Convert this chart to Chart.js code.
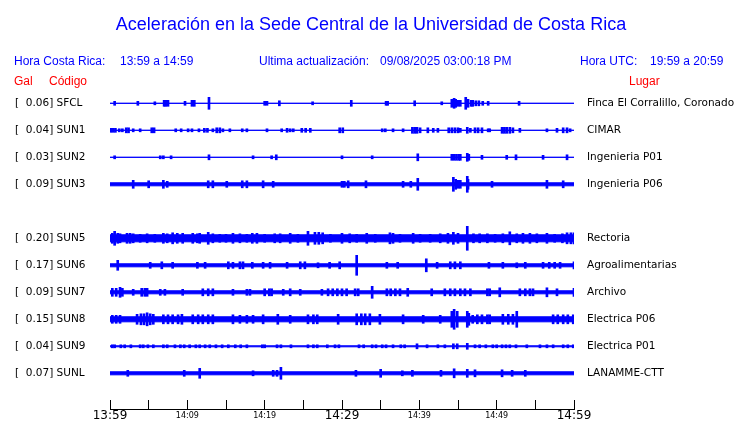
<!DOCTYPE html>
<html>
<head>
<meta charset="utf-8">
<title>Aceleración Sede Central UCR</title>
<script src="https://cdn.jsdelivr.net/npm/chart.js@4.4.0/dist/chart.umd.min.js"></script>
<style>
  body { margin: 0; background: #fff; }
  #wrap { width: 740px; height: 423px; }
</style>
</head>
<body>
<div id="wrap"><canvas id="sismoChart" width="740" height="423"></canvas></div>
<script>
// Textos de cabecera
var chartTitle = 'Aceleración en la Sede Central de la Universidad de Costa Rica';
var horaLocal = '13:59 a 14:59';
var horaUtc = '19:59 a 20:59';
var actualizacion = '09/08/2025 03:00:18 PM';

// Estaciones (SUN4 sin datos en esta ventana)
var codes = ['SFCL', 'SUN1', 'SUN2', 'SUN3', 'SUN4', 'SUN5', 'SUN6', 'SUN7', 'SUN8', 'SUN9', 'SUNL'];
var peakGal = [0.06, 0.04, 0.03, 0.09, null, 0.20, 0.17, 0.09, 0.15, 0.04, 0.07];
var places = ['Finca El Corralillo, Coronado', 'CIMAR', 'Ingenieria P01', 'Ingenieria P06', '',
  'Rectoria', 'Agroalimentarias', 'Archivo', 'Electrica P06', 'Electrica P01', 'LANAMME-CTT'];

// Eje de tiempo: minutos desde 13:59
var tickLabels = ['13:59', '', '14:09', '', '14:19', '', '14:29', '', '14:39', '', '14:49', '', '14:59'];
var windowMinutes = 60;

// Semi-amplitud del ruido de fondo de cada traza (unidades de fila)
var baseAmp = [0, 0, 0, 0.056, null, 0.13, 0.056, 0.056, 0.093, 0.019, 0.056];

var spikesSFCL = [[0.6, .074], [3.6, .074], [5.8, .056], [7.0, .111], [7.2, .111], [7.5, .111], [9.7, .074],
  [10.6, .111], [10.9, .111], [12.8, .222], [20.0, .074], [20.3, .074], [21.9, .093], [26.2, .056], [31.2, .111],
  [35.7, .074], [35.9, .074], [39.4, .093], [42.9, .056], [44.2, .148], [44.5, .185], [44.7, .148], [45.0, .111],
  [45.3, .111], [46.0, .222], [46.3, .148], [46.7, .111], [46.9, .111], [47.3, .093], [47.7, .093], [48.2, .074],
  [48.9, .074], [52.9, .074]];
var spikesSUN1 = [[0.1, .074], [0.4, .074], [0.7, .074], [1.2, .056], [1.6, .056], [2.1, .093], [2.4, .093],
  [3.0, .056], [3.9, .056], [5.4, .093], [5.7, .093], [8.5, .056], [9.2, .056], [10.1, .056], [10.6, .056],
  [11.5, .056], [12.2, .074], [12.6, .074], [13.3, .056], [13.8, .093], [14.2, .093], [14.6, .056], [15.5, .056],
  [17.1, .056], [17.7, .056], [20.3, .056], [22.2, .056], [22.9, .074], [23.3, .056], [23.7, .056], [24.8, .074],
  [25.3, .074], [25.9, .074], [29.7, .093], [30.1, .093], [35.2, .056], [35.6, .056], [36.6, .056], [37.9, .056],
  [39.1, .111], [39.4, .111], [39.7, .111], [40.1, .093], [41.1, .093], [41.8, .074], [42.4, .074], [43.8, .093],
  [44.2, .093], [44.6, .093], [45.0, .093], [45.3, .074], [46.2, .111], [46.6, .074], [47.2, .093], [47.6, .093],
  [48.1, .093], [48.9, .056], [49.1, .056], [50.7, .111], [51.0, .111], [51.3, .111], [51.7, .111], [52.1, .093],
  [53.0, .074], [56.5, .056], [57.8, .074], [58.6, .093], [59.1, .093], [59.5, .056]];
var spikesSUN2 = [[0.6, .056], [6.5, .056], [6.9, .056], [7.9, .056], [12.8, .093], [18.5, .056], [20.9, .056],
  [21.5, .093], [30.0, .056], [33.9, .056], [39.8, .13], [44.2, .111], [44.5, .111], [44.8, .111], [45.1, .111],
  [45.3, .111], [46.2, .148], [46.4, .111], [48.1, .074], [51.3, .074], [52.5, .093], [56.0, .074], [59.1, .093]];
var spikesSUN3 = [[3.0, .148], [5.0, .13], [6.9, .148], [7.4, .111], [12.7, .13], [13.3, .13], [15.1, .111],
  [17.1, .13], [17.7, .13], [19.8, .13], [21.1, .111], [30.0, .111], [30.3, .111], [30.8, .13], [33.1, .13],
  [37.9, .111], [38.9, .111], [39.8, .222], [44.4, .259], [44.7, .185], [45.0, .148], [45.3, .148], [46.2, .296],
  [46.3, .185], [49.4, .111], [56.5, .148], [58.6, .13]];
var spikesSUN5 = [[0.3, .185], [0.6, .259], [1.0, .185], [1.3, .167], [2.2, .185], [2.6, .185], [3.0, .167],
  [3.9, .148], [4.8, .167], [5.8, .148], [6.9, .185], [7.4, .167], [8.1, .204], [8.7, .185], [9.4, .185],
  [10.7, .185], [11.3, .167], [11.6, .185], [12.7, .222], [13.3, .167], [14.2, .148], [15.0, .148], [15.9, .185],
  [16.8, .167], [17.7, .148], [18.4, .185], [19.0, .185], [20.0, .148], [21.3, .167], [22.0, .167], [23.3, .185],
  [24.3, .148], [25.6, .259], [26.5, .222], [27.0, .222], [27.5, .204], [28.5, .148], [30.0, .185], [31.0, .167],
  [31.9, .148], [33.2, .185], [34.3, .148], [36.2, .204], [36.6, .185], [37.5, .148], [39.2, .185], [40.1, .148],
  [41.4, .148], [42.7, .167], [43.7, .185], [44.4, .222], [45.0, .185], [46.2, .444], [47.0, .167], [47.8, .167],
  [48.8, .167], [49.8, .148], [50.8, .167], [51.7, .241], [52.6, .167], [53.4, .185], [54.3, .185], [55.2, .167],
  [56.5, .185], [57.5, .148], [58.5, .167], [59.1, .204], [59.6, .204], [60.0, .204]];
var spikesSUN6 = [[1.0, .185], [5.2, .111], [6.7, .13], [8.1, .111], [11.3, .111], [12.3, .111], [15.3, .13],
  [15.9, .111], [16.8, .13], [17.2, .13], [18.4, .111], [19.8, .111], [20.7, .111], [22.9, .111], [24.6, .13],
  [25.2, .13], [26.9, .093], [28.4, .111], [29.7, .13], [31.9, .37], [35.8, .111], [37.2, .111], [40.9, .241],
  [42.3, .111], [44.0, .13], [44.6, .13], [45.3, .13], [49.0, .111], [50.8, .111], [52.6, .093], [53.7, .111],
  [56.0, .111], [56.8, .111], [57.5, .111], [58.2, .111], [60.0, .13]];
var spikesSUN7 = [[0.3, .148], [0.8, .148], [1.3, .185], [1.6, .148], [3.0, .111], [4.1, .148], [4.5, .148],
  [4.8, .148], [6.5, .111], [7.1, .111], [9.4, .111], [12.0, .13], [12.7, .13], [13.3, .13], [15.9, .111],
  [17.7, .111], [18.1, .111], [20.0, .13], [20.6, .13], [20.9, .13], [22.4, .111], [23.3, .13], [24.6, .111],
  [27.4, .111], [28.2, .13], [28.8, .13], [29.4, .13], [30.0, .13], [30.6, .13], [31.7, .13], [32.1, .13],
  [33.9, .222], [35.8, .13], [36.3, .13], [36.9, .13], [37.5, .13], [38.5, .148], [41.6, .13], [43.3, .13],
  [44.0, .13], [44.6, .13], [45.3, .13], [45.9, .13], [46.6, .13], [48.8, .13], [49.1, .13], [50.4, .167],
  [53.0, .13], [53.7, .13], [54.3, .13], [54.7, .13], [56.5, .167], [57.8, .13], [60.0, .148]];
var spikesSUN8 = [[0.3, .148], [0.8, .148], [1.3, .148], [3.5, .185], [4.0, .204], [4.4, .204], [4.8, .241],
  [5.2, .204], [5.6, .185], [6.9, .167], [7.5, .167], [8.1, .167], [8.8, .167], [9.3, .185], [10.7, .167],
  [11.4, .167], [12.0, .167], [12.7, .167], [13.3, .167], [15.9, .167], [16.8, .148], [17.7, .148], [18.5, .148],
  [19.8, .167], [21.7, .185], [23.3, .148], [25.6, .167], [26.3, .167], [26.8, .167], [29.5, .185], [31.9, .204],
  [32.5, .204], [33.0, .204], [33.6, .204], [34.9, .185], [37.9, .167], [40.5, .148], [42.7, .148], [44.2, .296],
  [44.5, .37], [44.9, .296], [46.2, .296], [46.4, .222], [46.9, .148], [47.5, .167], [48.1, .167], [48.8, .167],
  [49.1, .167], [50.8, .185], [51.5, .185], [52.1, .185], [52.6, .296], [57.3, .167], [57.9, .167], [58.6, .167],
  [59.2, .167], [59.9, .167]];
var spikesSUN9 = [[0.3, .056], [0.6, .056], [1.4, .056], [1.9, .056], [2.7, .056], [3.9, .056], [4.3, .056],
  [4.9, .056], [5.6, .056], [6.9, .056], [7.4, .056], [8.4, .056], [9.1, .056], [9.6, .056], [10.3, .056],
  [11.1, .056], [11.6, .056], [12.3, .056], [12.9, .056], [13.7, .056], [14.5, .056], [15.3, .056], [16.2, .056],
  [16.9, .056], [17.7, .056], [19.7, .056], [20.0, .056], [21.6, .056], [22.1, .056], [23.4, .056], [25.6, .056],
  [26.3, .056], [26.8, .056], [28.1, .056], [29.1, .056], [29.6, .056], [32.2, .056], [32.8, .056], [33.9, .056],
  [34.4, .056], [35.2, .056], [35.7, .056], [36.6, .056], [37.6, .056], [38.1, .056], [39.7, .093], [41.0, .056],
  [42.4, .056], [43.3, .056], [44.4, .093], [44.9, .093], [46.2, .111], [47.2, .056], [47.8, .056], [48.6, .056],
  [49.5, .056], [50.0, .056], [50.7, .056], [51.2, .056], [51.7, .056], [52.5, .056], [53.9, .056], [55.6, .056],
  [56.5, .056], [57.3, .056], [58.6, .056], [59.2, .056], [59.9, .056]];
var spikesSUNL = [[2.3, .111], [9.6, .111], [11.6, .185], [18.5, .093], [21.1, .111], [21.6, .111], [22.1, .222],
  [31.8, .111], [35.0, .148], [37.8, .093], [39.1, .111], [42.8, .111], [44.5, .167], [46.2, .148], [47.2, .13],
  [50.7, .13], [52.0, .111], [53.7, .111]];
var spikes = [spikesSFCL, spikesSUN1, spikesSUN2, spikesSUN3, null, spikesSUN5, spikesSUN6,
  spikesSUN7, spikesSUN8, spikesSUN9, spikesSUNL];

var traceColor = '#0000ff';

// Build datasets: a band for the background noise plus thin bars for the peaks
var datasets = [];
codes.forEach(function (code, row) {
  if (baseAmp[row] === null) return;
  var b = baseAmp[row];
  datasets.push({
    type: 'line',
    label: code + ' sup',
    data: [{ x: 0, y: row - b }, { x: windowMinutes, y: row - b }],
    borderColor: traceColor,
    borderWidth: 1,
    pointRadius: 0,
    fill: false
  });
  datasets.push({
    type: 'line',
    label: code + ' inf',
    data: [{ x: 0, y: row + b }, { x: windowMinutes, y: row + b }],
    borderColor: traceColor,
    backgroundColor: traceColor,
    borderWidth: 1,
    pointRadius: 0,
    fill: '-1'
  });
  datasets.push({
    type: 'bar',
    label: code,
    data: spikes[row].map(function (s) {
      return { x: s[0], y: [row - s[1], row + s[1]] };
    }),
    backgroundColor: traceColor,
    borderWidth: 0,
    barThickness: 2,
    grouped: false
  });
});

// Cabecera dibujada sobre el canvas
var headerText = {
  id: 'headerText',
  afterDraw: function (chart) {
    var c = chart.ctx;
    c.save();
    c.textBaseline = 'alphabetic';
    c.fillStyle = '#0000ff';
    c.font = '18px "Liberation Sans", Arial, sans-serif';
    c.textAlign = 'center';
    c.fillText(chartTitle, 371, 30);
    c.textAlign = 'left';
    c.font = '12px "Liberation Sans", Arial, sans-serif';
    c.fillText('Hora Costa Rica:', 14, 65);
    c.fillText(horaLocal, 120, 65);
    c.fillText('Ultima actualización:', 259, 65);
    c.fillText(actualizacion, 380, 65);
    c.fillText('Hora UTC:', 580, 65);
    c.fillText(horaUtc, 650, 65);
    c.fillStyle = '#ff0000';
    c.fillText('Gal', 14, 85);
    c.fillText('Código', 49, 85);
    c.fillText('Lugar', 629, 85);
    c.restore();
  }
};

var rowTicks = function (scale) {
  scale.ticks = codes.map(function (c, i) { return { value: i }; });
};

var sismoChart = new Chart(document.getElementById('sismoChart'), {
  type: 'bar',
  data: { datasets: datasets },
  plugins: [headerText],
  options: {
    responsive: false,
    animation: false,
    events: [],
    layout: { padding: { top: 84, left: 15, right: 0, bottom: 0 } },
    plugins: {
      legend: { display: false },
      tooltip: { enabled: false },
      title: { display: false }
    },
    scales: {
      x: {
        type: 'linear',
        position: 'bottom',
        min: 0,
        max: windowMinutes,
        offset: false,
        afterFit: function (s) {
          s.height = 14;
          s.paddingLeft = 0;
          s.paddingRight = 0;
        },
        grid: { drawOnChartArea: false, tickLength: -9, color: '#000', offset: false },
        border: { color: '#000', width: 1 },
        ticks: {
          stepSize: 5,
          autoSkip: false,
          maxRotation: 0,
          padding: 10,
          color: '#000',
          font: function (ctx) {
            var major = ctx.tick && ctx.tick.value % 30 === 0;
            return major
              ? { family: 'DejaVu Sans', size: 12, lineHeight: 1 }
              : { family: 'DejaVu Sans', size: 8, lineHeight: 1.5 };
          },
          callback: function (v, i) { return tickLabels[i]; }
        }
      },
      y: {
        type: 'linear',
        position: 'left',
        reverse: true,
        min: -0.715,
        max: 11.322,
        afterBuildTicks: rowTicks,
        afterFit: function (s) {
          s.width = 95;
          s.paddingTop = 0;
          s.paddingBottom = 0;
        },
        grid: { display: false, drawTicks: false },
        border: { display: false },
        ticks: {
          autoSkip: false,
          crossAlign: 'far',
          padding: 0,
          color: '#000',
          font: { family: 'DejaVu Sans', size: 10.5 },
          callback: function (v) {
            return peakGal[v] === null ? '' : '[  ' + peakGal[v].toFixed(2) + '] ' + codes[v];
          }
        }
      },
      y2: {
        type: 'linear',
        position: 'right',
        reverse: true,
        min: -0.715,
        max: 11.322,
        afterBuildTicks: rowTicks,
        afterFit: function (s) {
          s.width = 166;
          s.paddingTop = 0;
          s.paddingBottom = 0;
        },
        grid: { display: false, drawTicks: false },
        border: { display: false },
        ticks: {
          autoSkip: false,
          crossAlign: 'near',
          padding: 13,
          color: '#000',
          font: { family: 'DejaVu Sans', size: 10.5 },
          callback: function (v) { return places[v]; }
        }
      }
    }
  }
});
</script>
</body>
</html>
